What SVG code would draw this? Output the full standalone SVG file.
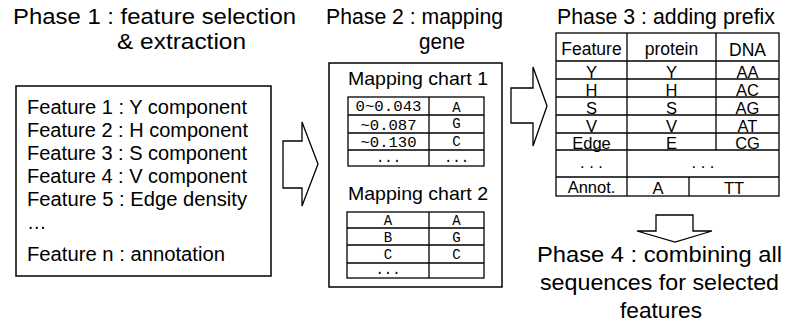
<svg xmlns="http://www.w3.org/2000/svg" width="791" height="326" viewBox="0 0 791 326">
  <style>
    .box { fill: #fff; stroke: #000; stroke-width: 1.5; }
    .ln { stroke: #000; stroke-width: 1.3; fill: none; }
    .arrow { fill: #fff; stroke: #000; stroke-width: 1.3; stroke-linejoin: miter; }
    .title { font-family: "Liberation Sans", Arial, sans-serif; font-size: 22px; fill: #000; }
    .feat { font-family: "Liberation Sans", Arial, sans-serif; font-size: 19.5px; fill: #000; }
    .chart { font-family: "Liberation Sans", Arial, sans-serif; font-size: 18.5px; fill: #000; }
    .mono { font-family: "Liberation Mono", "Courier New", monospace; font-size: 14px; fill: #000; text-anchor: middle; }
    .cell { font-family: "Liberation Sans", Arial, sans-serif; font-size: 16.5px; fill: #000; text-anchor: middle; }
    .head { font-family: "Liberation Sans", Arial, sans-serif; font-size: 17.5px; fill: #000; text-anchor: middle; }
  </style>

  <!-- Phase headings -->
  <g id="titles">
    <text class="title" x="13" y="24" textLength="283" lengthAdjust="spacingAndGlyphs">Phase 1 : feature selection</text>
    <text class="title" x="117" y="49" textLength="129" lengthAdjust="spacingAndGlyphs">&amp; extraction</text>
    <text class="title" x="326" y="24" textLength="177" lengthAdjust="spacingAndGlyphs">Phase 2 : mapping</text>
    <text class="title" x="419" y="49" textLength="46" lengthAdjust="spacingAndGlyphs">gene</text>
    <text class="title" x="557" y="24" textLength="218" lengthAdjust="spacingAndGlyphs">Phase 3 : adding prefix</text>
  </g>

  <!-- Phase 1: feature list -->
  <g id="features">
    <rect class="box" x="16" y="86" width="255" height="190"/>
    <text class="feat" x="27" y="114" textLength="220" lengthAdjust="spacingAndGlyphs">Feature 1 : Y component</text>
    <text class="feat" x="27" y="137" textLength="221" lengthAdjust="spacingAndGlyphs">Feature 2 : H component</text>
    <text class="feat" x="27" y="160" textLength="220" lengthAdjust="spacingAndGlyphs">Feature 3 : S component</text>
    <text class="feat" x="27" y="183" textLength="220" lengthAdjust="spacingAndGlyphs">Feature 4 : V component</text>
    <text class="feat" x="27" y="206" textLength="220" lengthAdjust="spacingAndGlyphs">Feature 5 : Edge density</text>
    <text class="feat" x="27" y="229">…</text>
    <text class="feat" x="27" y="261" textLength="198" lengthAdjust="spacingAndGlyphs">Feature n : annotation</text>
  </g>

  <!-- Phase 2: mapping charts -->
  <g id="mapping">
    <rect class="box" x="329" y="63" width="173" height="224"/>
    <text class="chart" x="348" y="85" textLength="140" lengthAdjust="spacingAndGlyphs">Mapping chart 1</text>
    <rect class="ln" x="348" y="97" width="136" height="69"/>
    <path class="ln" d="M429,97 V166 M348,115 H484 M348,133 H484 M348,150 H484"/>
    <text class="mono" x="388.5" y="111" textLength="66" lengthAdjust="spacingAndGlyphs">0~0.043</text>
    <text class="mono" x="456.5" y="112">A</text>
    <text class="mono" x="388.5" y="130" textLength="56" lengthAdjust="spacingAndGlyphs">~0.087</text>
    <text class="mono" x="456.5" y="128">G</text>
    <text class="mono" x="388.5" y="147" textLength="56" lengthAdjust="spacingAndGlyphs">~0.130</text>
    <text class="mono" x="456.5" y="146">C</text>
    <text class="mono" x="388.5" y="162">...</text>
    <text class="mono" x="456.5" y="162">...</text>

    <text class="chart" x="348" y="200" textLength="140" lengthAdjust="spacingAndGlyphs">Mapping chart 2</text>
    <rect class="ln" x="347" y="212" width="137" height="66"/>
    <path class="ln" d="M429,212 V278 M347,228 H484 M347,245 H484 M347,263 H484"/>
    <text class="mono" x="388" y="225">A</text>
    <text class="mono" x="456.5" y="225">A</text>
    <text class="mono" x="388" y="242">B</text>
    <text class="mono" x="456.5" y="242">G</text>
    <text class="mono" x="388" y="259">C</text>
    <text class="mono" x="456.5" y="259">C</text>
    <text class="mono" x="388" y="274">...</text>
  </g>

  <!-- Phase 3: prefix table -->
  <g id="prefix">
    <rect class="ln" x="556" y="33" width="223" height="163"/>
    <path class="ln" d="M556,61 H779 M556,79 H779 M556,97 H779 M556,115 H779 M556,133 H779 M556,150 H779 M556,177 H779
                        M627,33 V196 M716,33 V150 M689,177 V196"/>
    <text class="head" x="591.5" y="55">Feature</text>
    <text class="head" x="671.5" y="55">protein</text>
    <text class="head" x="747.5" y="56">DNA</text>

    <text class="cell" x="591.5" y="78">Y</text>
    <text class="cell" x="671.5" y="78">Y</text>
    <text class="cell" x="747.5" y="78">AA</text>
    <text class="cell" x="591.5" y="96">H</text>
    <text class="cell" x="671.5" y="96">H</text>
    <text class="cell" x="747.5" y="96">AC</text>
    <text class="cell" x="591.5" y="114">S</text>
    <text class="cell" x="671.5" y="114">S</text>
    <text class="cell" x="747.5" y="114">AG</text>
    <text class="cell" x="591.5" y="132">V</text>
    <text class="cell" x="671.5" y="132">V</text>
    <text class="cell" x="747.5" y="132">AT</text>
    <text class="cell" x="591.5" y="149">Edge</text>
    <text class="cell" x="671.5" y="149">E</text>
    <text class="cell" x="747.5" y="149">CG</text>
    <text class="cell" x="591.5" y="168">. . .</text>
    <text class="cell" x="703" y="168">. . .</text>
    <text class="cell" x="591.5" y="193">Annot.</text>
    <text class="cell" x="658" y="194">A</text>
    <text class="cell" x="734" y="194">TT</text>
  </g>

  <!-- Phase 4: final step -->
  <g id="combine">
    <text class="title" x="537" y="262" textLength="245" lengthAdjust="spacingAndGlyphs">Phase 4 : combining all</text>
    <text class="title" x="540" y="290" textLength="239" lengthAdjust="spacingAndGlyphs">sequences for selected</text>
    <text class="title" x="620" y="318" textLength="82" lengthAdjust="spacingAndGlyphs">features</text>
  </g>

  <!-- Block arrows between phases -->
  <g id="connectors">
    <path class="arrow" d="M283,141 H302 V122 L318,164 L302,206 V188 H283 Z"/>
    <path class="arrow" d="M511,88 H533 V67 L547,106 L533,146 V123 H511 Z"/>
    <path class="arrow" d="M656,215 H693 V231 H712 L675,242 L637,231 H656 Z"/>
  </g>
</svg>
